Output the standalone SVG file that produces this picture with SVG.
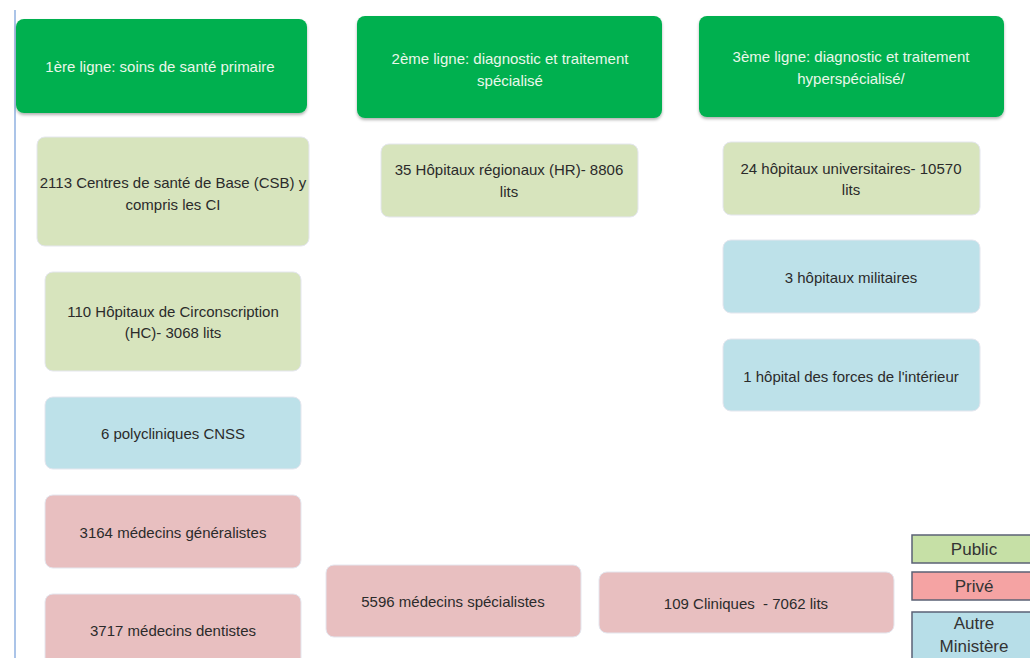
<svg xmlns="http://www.w3.org/2000/svg" width="1030" height="658" viewBox="0 0 1030 658">
<defs>
<filter id="sh" x="-5%" y="-10%" width="110%" height="125%">
<feDropShadow dx="0" dy="2" stdDeviation="1.5" flood-color="#000" flood-opacity="0.3"/>
</filter>
</defs>
<style>
text{font-family:"Liberation Sans",Arial,sans-serif;font-size:15px;fill:#2b2b2b;text-anchor:middle}
.hdr rect{fill:#00b050;filter:url(#sh)}
.hdr text{fill:#eaf7ea}
.pub{fill:#d7e4bd;stroke:#e4e6ee;stroke-width:1}
.oth{fill:#bde1e9;stroke:#e4e6ee;stroke-width:1}
.prv{fill:#e8bfc0;stroke:#e4e6ee;stroke-width:1}
.leg rect{stroke:#5b6275;stroke-width:1.5}
.leg text{font-size:17px;fill:#333}
</style>
<rect width="1030" height="658" fill="#fff"/>
<g id="connectors">
<line x1="15" y1="10" x2="15" y2="658" stroke="#8fb0e0" stroke-width="1.5"/>
</g>
<g id="h1" class="hdr"><rect x="16" y="19" width="291" height="94" rx="8"/><text x="160" y="72">1ère ligne: soins de santé primaire</text></g>
<g id="h2" class="hdr"><rect x="357" y="16" width="305" height="102" rx="8"/><text x="510" y="64">2ème ligne: diagnostic et traitement</text><text x="510" y="86">spécialisé</text></g>
<g id="h3" class="hdr"><rect x="699" y="16" width="305" height="101" rx="8"/><text x="851" y="62">3ème ligne: diagnostic et traitement</text><text x="851" y="84">hyperspécialisé/</text></g>

<g id="csb"><rect class="pub" x="37" y="137" width="272" height="109" rx="8"/><text x="173" y="188">2113 Centres de santé de Base (CSB) y</text><text x="173" y="210">compris les CI</text></g>
<g id="hc"><rect class="pub" x="45" y="272" width="256" height="99" rx="8"/><text x="173" y="317">110 Hôpitaux de Circonscription</text><text x="173" y="338">(HC)- 3068 lits</text></g>
<g id="cnss"><rect class="oth" x="45" y="397" width="256" height="72" rx="8"/><text x="173" y="439">6 polycliniques CNSS</text></g>
<g id="gen"><rect class="prv" x="45" y="495" width="256" height="73" rx="8"/><text x="173" y="538">3164 médecins généralistes</text></g>
<g id="dent"><rect class="prv" x="45" y="594" width="256" height="80" rx="8"/><text x="173" y="636">3717 médecins dentistes</text></g>

<g id="hr"><rect class="pub" x="381" y="144" width="257" height="73" rx="8"/><text x="509" y="175">35 Hôpitaux régionaux (HR)- 8806</text><text x="509" y="197">lits</text></g>
<g id="spec"><rect class="prv" x="326" y="565" width="255" height="72" rx="8"/><text x="453" y="607">5596 médecins spécialistes</text></g>
<g id="clin"><rect class="prv" x="599" y="572" width="295" height="61" rx="8"/><text x="746" y="609" style="white-space:pre">109 Cliniques  - 7062 lits</text></g>

<g id="hu"><rect class="pub" x="723" y="142" width="257" height="73" rx="8"/><text x="851" y="174">24 hôpitaux universitaires- 10570</text><text x="851" y="195">lits</text></g>
<g id="mil"><rect class="oth" x="723" y="240" width="257" height="73" rx="8"/><text x="851" y="283">3 hôpitaux militaires</text></g>
<g id="fi"><rect class="oth" x="723" y="339" width="257" height="72" rx="8"/><text x="851" y="382">1 hôpital des forces de l'intérieur</text></g>

<g id="legend" class="leg">
<g id="leg-public"><rect x="912" y="535" width="125" height="28" fill="#c6e0a6"/><text x="974" y="555">Public</text></g>
<g id="leg-prive"><rect x="912" y="572" width="125" height="28" fill="#f5a3a3"/><text x="974" y="592">Privé</text></g>
<g id="leg-autre"><rect x="912" y="612" width="125" height="55" fill="#b7dee8"/><text x="974" y="629">Autre</text><text x="974" y="652">Ministère</text></g>
</g>
</svg>
